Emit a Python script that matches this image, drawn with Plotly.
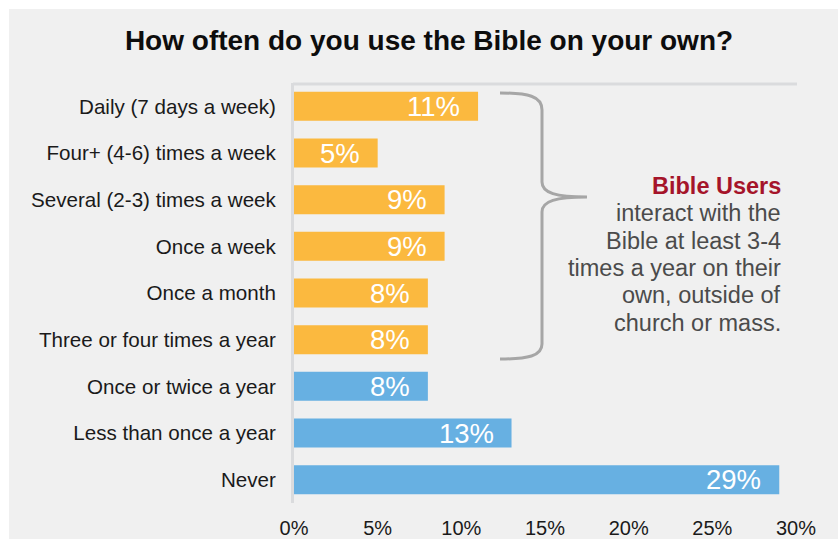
import plotly.graph_objects as go

# Survey responses, top to bottom
categories = [
    "Daily (7 days a week)",
    "Four+ (4-6) times a week",
    "Several (2-3) times a week",
    "Once a week",
    "Once a month",
    "Three or four times a year",
    "Once or twice a year",
    "Less than once a year",
    "Never",
]
percent = [11, 5, 9, 9, 8, 8, 8, 13, 29]
is_user = [True, True, True, True, True, True, False, False, False]

x_ticks = [0, 5, 10, 15, 20, 25, 30]
x_tick_labels = ["0%", "5%", "10%", "15%", "20%", "25%", "30%"]

note_title = "Bible Users"
note_lines = [
    "interact with the",
    "Bible at least 3-4",
    "times a year on their",
    "own, outside of",
    "church or mass.",
]

ORANGE = "#FBB93F"
BLUE = "#67B0E2"
PANEL = "#F0F0F0"
AXIS_LINE = "#DADBDD"
FONT = "Liberation Sans, Arial, sans-serif"

W, H = 838, 539
ML, MR, MT, MB = 294, 42, 83, 36
PW, PH = W - ML - MR, H - MT - MB


def px_to_paper(px, py):
    return (px - ML) / PW, (H - MB - py) / PH


colors = [ORANGE if u else BLUE for u in is_user]

fig = go.Figure(
    go.Bar(
        x=percent,
        y=categories,
        orientation="h",
        marker=dict(color=colors, line=dict(width=0)),
        width=0.62,
        hoverinfo="skip",
    )
)

# value labels inside the bar ends
annotations = []
for cat, val in zip(categories, percent):
    annotations.append(
        dict(
            x=val, y=cat, xref="x", yref="y",
            text=f"{val}%", showarrow=False,
            xanchor="right", yanchor="middle", xshift=-16,
            font=dict(family=FONT, size=27.5, color="white"),
        )
    )

# side note about Bible Users, one annotation per line
note = [(f"<b>{note_title}</b>", "#A5142A")] + [(t, "#4B4B4B") for t in note_lines]
for i, (txt, col) in enumerate(note):
    nx, ny = px_to_paper(783, 186 + i * 27.3)
    annotations.append(
        dict(
            x=nx, y=ny, xref="paper", yref="paper",
            xanchor="right", yanchor="middle", align="right", showarrow=False,
            text=txt,
            font=dict(family=FONT, size=23.5, color=col),
        )
    )

# curly brace grouping the Bible User rows
brace_px = [
    ("M", (500, 93)),
    ("C", (528, 93), (542, 96), (542, 110)),
    ("L", (542, 182)),
    ("C", (542, 193), (556, 197), (587, 197)),
    ("C", (556, 197), (542, 201), (542, 212)),
    ("L", (542, 344)),
    ("C", (542, 356), (528, 359), (500, 359)),
]
path = ""
for cmd, *pts in brace_px:
    path += cmd + " " + " ".join("%.5f,%.5f" % px_to_paper(*p) for p in pts) + " "

bx0, by0 = px_to_paper(9, 9)
bx1, by1 = px_to_paper(W + 2, H + 2)
tx0, ty = px_to_paper(293, 84)
tx1, _ = px_to_paper(797, 84)

shapes = [
    dict(type="rect", xref="paper", yref="paper", x0=bx0, y0=by1, x1=bx1, y1=by0,
         fillcolor=PANEL, line=dict(width=0), layer="below"),
    dict(type="line", xref="paper", yref="paper", x0=tx0, y0=ty, x1=tx1, y1=ty,
         line=dict(color=AXIS_LINE, width=3)),
    dict(type="path", xref="paper", yref="paper", path=path.strip(),
         line=dict(color="#A6A6A6", width=3)),
]

fig.update_layout(
    width=W, height=H,
    margin=dict(l=ML, r=MR, t=MT, b=MB, autoexpand=False),
    paper_bgcolor="white",
    plot_bgcolor="rgba(0,0,0,0)",
    showlegend=False,
    bargap=0.38,
    title=dict(
        text="<b>How often do you use the Bible on your own?</b>",
        x=429 / W, xref="container", xanchor="center",
        y=1 - 40 / H, yref="container", yanchor="middle",
        font=dict(family=FONT, size=28, color="#0D0D0D"),
    ),
    xaxis=dict(
        range=[0, 30], tickvals=x_ticks, ticktext=x_tick_labels,
        showgrid=False, zeroline=False, showline=False,
        ticks="outside", ticklen=7, tickcolor="rgba(0,0,0,0)",
        tickfont=dict(family=FONT, size=20, color="#1A1A1A"),
        fixedrange=True,
    ),
    yaxis=dict(
        categoryorder="array", categoryarray=categories, autorange="reversed",
        showgrid=False, zeroline=False,
        showline=True, linecolor=AXIS_LINE, linewidth=3,
        ticks="outside", ticklen=11, tickcolor="rgba(0,0,0,0)",
        tickfont=dict(family=FONT, size=20.6, color="#1A1A1A"),
        fixedrange=True,
    ),
    annotations=annotations,
    shapes=shapes,
)

fig.write_html("out.html", config={"displayModeBar": False})
